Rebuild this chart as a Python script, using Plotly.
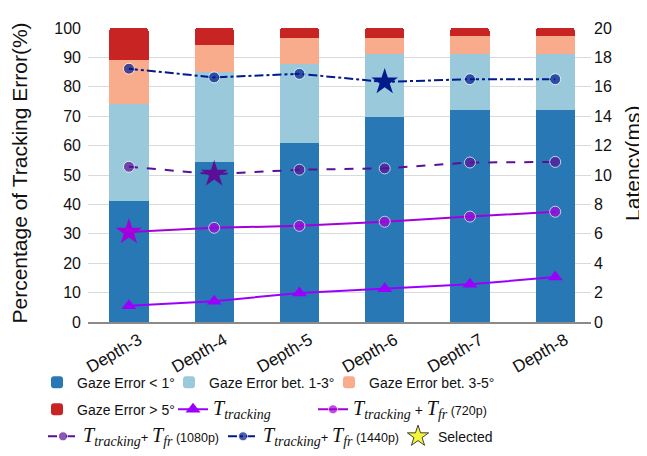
import plotly.graph_objects as go

categories = ["Depth-3", "Depth-4", "Depth-5", "Depth-6", "Depth-7", "Depth-8"]

# Stacked percentages of tracking error
err_lt1 = [41.0, 54.3, 61.0, 69.8, 72.0, 72.0]
err_1_3 = [33.0, 30.6, 26.9, 21.2, 19.3, 19.3]
err_3_5 = [15.0, 9.3, 8.6, 5.7, 6.0, 6.0]
err_gt5 = [11.0, 5.8, 3.5, 3.3, 2.7, 2.7]

# Latencies (ms)
t_tracking = [1.10, 1.42, 1.97, 2.26, 2.56, 3.06]
t_720p = [6.12, 6.41, 6.54, 6.82, 7.17, 7.50]
t_1080p = [10.56, 10.06, 10.36, 10.45, 10.85, 10.89]
t_1440p = [17.23, 16.64, 16.88, 16.33, 16.52, 16.52]

# Selected configuration per resolution (index into categories)
sel_720p = 0
sel_1080p = 1
sel_1440p = 3

bar_colors = ["#2878B5", "#9AC9DB", "#F8AC8C", "#C82423"]
c_track = "#9B00FF"
c_720 = "#A300DC"
c_1080 = "#5B0F96"
c_1440 = "#001A8C"

SANS = "Liberation Sans, Arial, sans-serif"
SERIF = "Liberation Serif, Times New Roman, serif"

def T(sub):
    return (f"<span style='font-family:{SERIF};font-size:20px'><i>T</i>"
            f"<sub><i>{sub}</i></sub></span>")

def res(r):
    return f"<span style='font-size:12.5px'> {r}</span>"

lbl_track = T("tracking")
lbl_720 = T("tracking") + " + " + T("fr") + res("(720p)")
lbl_1080 = T("tracking") + "<span style='font-size:13px'>+ </span>" + T("fr") + res("(1080p)")
lbl_1440 = T("tracking") + "<span style='font-size:13px'>+ </span>" + T("fr") + res("(1440p)")

fig = go.Figure()

bar_names = ["Gaze Error < 1°", "Gaze Error bet. 1-3°", "Gaze Error bet. 3-5°", "Gaze Error > 5°"]
bar_legends = ["legend", "legend2", "legend3", "legend4"]
for vals, name, col, lg in zip([err_lt1, err_1_3, err_3_5, err_gt5], bar_names, bar_colors, bar_legends):
    fig.add_trace(go.Bar(x=categories, y=vals, name=name, marker=dict(color=col, line=dict(width=0)),
                         width=0.46, legend=lg, yaxis="y"))

def sizes(n, sel, base):
    return [0 if i == sel else base for i in range(n)]

fig.add_trace(go.Scatter(x=categories, y=t_tracking, name=lbl_track, mode="lines+markers",
                         line=dict(color=c_track, width=2),
                         marker=dict(symbol="triangle-up", size=13, color=c_track),
                         yaxis="y2", legend="legend5"))
fig.add_trace(go.Scatter(x=categories, y=t_720p, name=lbl_720, mode="lines+markers",
                         line=dict(color=c_720, width=2),
                         marker=dict(symbol="circle", size=sizes(6, sel_720p, 11), color=c_720),
                         yaxis="y2", legend="legend6"))
fig.add_trace(go.Scatter(x=categories, y=t_1080p, name=lbl_1080, mode="lines+markers",
                         line=dict(color=c_1080, width=2, dash="dash"),
                         marker=dict(symbol="circle", size=sizes(6, sel_1080p, 11), color=c_1080),
                         yaxis="y2", legend="legend7"))
fig.add_trace(go.Scatter(x=categories, y=t_1440p, name=lbl_1440, mode="lines+markers",
                         line=dict(color=c_1440, width=2, dash="dashdot"),
                         marker=dict(symbol="circle", size=sizes(6, sel_1440p, 11), color=c_1440),
                         yaxis="y2", legend="legend8"))

# Selected stars
for series, sel, col in [(t_720p, sel_720p, c_720), (t_1080p, sel_1080p, c_1080), (t_1440p, sel_1440p, c_1440)]:
    fig.add_trace(go.Scatter(x=[categories[sel]], y=[series[sel]], mode="markers",
                             marker=dict(symbol="star", size=20, color=col),
                             yaxis="y2", showlegend=False))
fig.add_trace(go.Scatter(x=[None], y=[None], mode="markers", name="Selected",
                         marker=dict(symbol="star", size=16, color="#F5F53A",
                                     line=dict(color="#404040", width=1)),
                         yaxis="y2", legend="legend9"))

L, R, TOP, BOT = 80, 64, 17, 134
W, H = 647, 456
pw = W - L - R
ph = H - TOP - BOT

def px2x(px):
    return (px - L) / pw

def py2y(py):
    return (H - BOT - py) / ph

legend_pos = {
    "legend": (29, 385), "legend2": (161, 385), "legend3": (321, 385),
    "legend4": (29, 413), "legend5": (165, 413), "legend6": (305, 413),
    "legend7": (35, 441), "legend8": (215, 441), "legend9": (390, 441),
}
layout_legends = {}
for k, (lx, ly) in legend_pos.items():
    layout_legends[k] = dict(x=px2x(lx), y=py2y(ly), xanchor="left", yanchor="middle",
                             bgcolor="rgba(0,0,0,0)", borderwidth=0,
                             font=dict(family=SANS, size=14, color="#111"),
                             orientation="h", tracegroupgap=0)

fig.update_layout(
    width=W, height=H,
    margin=dict(l=L, r=R, t=TOP, b=BOT, pad=0),
    paper_bgcolor="white", plot_bgcolor="white",
    barmode="stack", barcornerradius=3,
    font=dict(family=SANS, size=16, color="#111"),
    xaxis=dict(type="category", range=[-0.48, 5.42], showline=True, linecolor="#8a8a8a",
               linewidth=1.5, tickangle=-30, tickfont=dict(size=17), showgrid=False,
               ticks="", ticklabelshift=10),
    yaxis=dict(range=[0, 100], dtick=10, showgrid=True, gridcolor="#d9d9d9", gridwidth=1,
               zeroline=False, ticks="", ticklabelstandoff=6, tickfont=dict(size=16)),
    yaxis2=dict(range=[0, 20], dtick=2, overlaying="y", side="right", showgrid=False,
                zeroline=False, ticks="", ticklabelstandoff=2, tickfont=dict(size=16)),
    annotations=[
        dict(text="Percentage of Tracking Error(%)", x=px2x(12), y=py2y(168), xref="paper", yref="paper",
             textangle=-90, showarrow=False, font=dict(size=21, family=SANS, color="#111"),
             xanchor="center", yanchor="middle"),
        dict(text="Latency(ms)", x=px2x(625), y=py2y(157), xref="paper", yref="paper",
             textangle=-90, showarrow=False, font=dict(size=21, family=SANS, color="#111"),
             xanchor="center", yanchor="middle"),
    ],
    **layout_legends,
)

fig.write_html("out.html")
